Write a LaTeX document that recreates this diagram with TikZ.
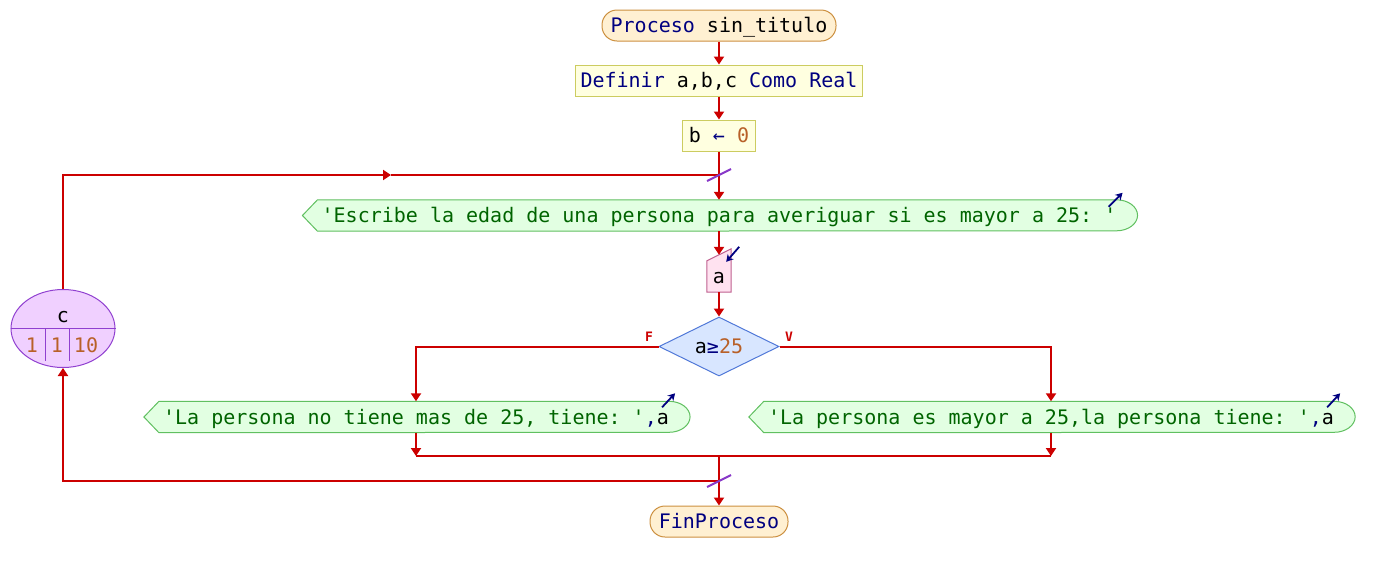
\documentclass[tikz,border=0pt]{standalone}
\usepackage{fontspec}
\setmonofont{DejaVu Sans Mono}
\usetikzlibrary{shapes.geometric,arrows.meta}
\pgfdeclarelayer{background}
\pgfsetlayers{background,main}
\definecolor{flow}{RGB}{204,0,0}
\definecolor{kw}{RGB}{0,0,128}
\definecolor{strg}{RGB}{0,100,0}
\definecolor{num}{RGB}{184,96,40}
\definecolor{procF}{RGB}{255,240,210}
\definecolor{procB}{RGB}{204,144,64}
\definecolor{defF}{RGB}{255,255,224}
\definecolor{defB}{RGB}{204,204,96}
\definecolor{outF}{RGB}{226,255,226}
\definecolor{outB}{RGB}{96,192,96}
\definecolor{inF}{RGB}{255,226,240}
\definecolor{inB}{RGB}{192,96,144}
\definecolor{decF}{RGB}{216,230,255}
\definecolor{decB}{RGB}{80,120,216}
\definecolor{cntF}{RGB}{240,208,255}
\definecolor{cntB}{RGB}{144,64,208}
\definecolor{slashC}{RGB}{136,56,200}
\newcommand{\outshape}[1]{%
  \begin{pgfonlayer}{background}
  \draw[outB, fill=outF, line width=1pt] ([xshift=-19pt]#1.west) -- ([xshift=-4pt]#1.north west) -- (#1.north east)
    arc[start angle=90, end angle=-90, x radius=21pt, y radius=15.5pt] -- ([xshift=-4pt]#1.south west) -- cycle;
  \end{pgfonlayer}}
\begin{document}
\frenchspacing
\begin{tikzpicture}[x=1pt,y=-1pt,
  font=\ttfamily\fontsize{20}{24}\selectfont,
  txt/.style={inner sep=0pt, text height=15pt, text depth=1pt},
  procbox/.style={txt, draw=procB, fill=procF, line width=1pt, rounded corners=15pt, minimum height=31pt},
  defbox/.style={txt, draw=defB, fill=defF, line width=1pt, minimum height=31pt},
  outbox/.style={txt, minimum height=31pt},
  flowline/.style={draw=flow, line width=2pt},
  arr/.style={flowline, -{Triangle[width=10pt,length=8pt]}},
  ioarrow/.style={draw=kw, line width=1.8pt, -{Stealth[width=8pt,length=7pt]}},
  slash/.style={draw=slashC, line width=2pt},
  cond/.style={text=flow, inner sep=0pt, font=\ttfamily\bfseries\fontsize{13}{15}\selectfont}]
\useasboundingbox (0,0) rectangle (1373,571);

% nodes
\node[procbox, minimum width=234pt] (p) at (719,25.5) {{\color{kw}Proceso} sin\_titulo};
\node[defbox, minimum width=287pt] (d) at (719,80.5) {{\color{kw}Definir} a,b,c {\color{kw}Como Real}};
\node[defbox, minimum width=73pt] (b) at (719,135.5) {b {\color{kw}←} {\color{num}0}};

\node[outbox] (o1) at (719,215.5) {\color{strg}'Escribe la edad de una persona para averiguar si es mayor a 25: '};
\outshape{o1}

\node[txt, minimum width=24pt, minimum height=31pt] (inp) at (719,276.5) {a};
\begin{pgfonlayer}{background}
\draw[inB, fill=inF, line width=1pt] (inp.south west) -- (inp.south east) -- ([yshift=12pt]inp.north east) -- (inp.north west) -- cycle;
\end{pgfonlayer}

\node[diamond, aspect=2, draw=decB, fill=decF, line width=1pt, minimum width=120pt, minimum height=59pt, inner sep=0pt, text height=15pt, text depth=1pt] (dec) at (719,346.5) {a{\color{kw}≥}{\color{num}25}};
\node[cond] (lf) at (649,337) {F};
\node[cond] (lv) at (789,337) {V};

\node[outbox] (oL) at (416,417) {{\color{strg}'La persona no tiene mas de 25, tiene: '}{\color{kw},}a};
\outshape{oL}
\node[outbox] (oR) at (1051,417) {{\color{strg}'La persona es mayor a 25,la persona tiene: '}{\color{kw},}a};
\outshape{oR}

\node[procbox, minimum width=138pt] (fin) at (719,521.5) {\color{kw}FinProceso};

% loop counter
\node[ellipse, draw=cntB, fill=cntF, line width=1pt, minimum width=104pt, minimum height=78pt, inner sep=0pt] (cnt) at (63,328.5) {};
\draw[cntB, line width=1pt] (cnt.west) -- (cnt.east);
\draw[cntB, line width=1pt] ([xshift=-18pt]cnt.center) -- ([xshift=-18pt,yshift=-32pt]cnt.center);
\draw[cntB, line width=1pt] ([xshift=6pt]cnt.center) -- ([xshift=6pt,yshift=-32pt]cnt.center);
\node[txt] (cv) at (63,315.5) {c};
\node[txt] (c1) at (32,345) {\color{num}1};
\node[txt] (c2) at (57,345) {\color{num}1};
\node[txt] (c3) at (86,345) {\color{num}10};

% junctions
\coordinate (j1) at (719,175);
\coordinate (lm) at (391,175);
\coordinate (jm) at (719,456);
\coordinate (j2) at (719,481);

% connectors
\draw[arr] (p.south) -- (d.north);
\draw[arr] (d.south) -- (b.north);
\draw[arr] (b.south) -- (o1.north);
\draw[arr] (o1.south) -- ([yshift=6pt]inp.north);
\draw[arr] (inp.south) -- (dec.north);
\draw[arr] (dec.west) -| (oL.north);
\draw[arr] (dec.east) -| (oR.north);
\draw[arr] (oL.south) -- (oL.south |- jm);
\draw[arr] (oR.south) -- (oR.south |- jm);
\draw[flowline] (oL.south |- jm) -- (oR.south |- jm);
\draw[arr] (jm) -- (fin.north);
\draw[arr] (j2) -| (cnt.south);
\draw[arr] (cnt.north) |- (lm);
\draw[flowline] (lm) -- (j1);

% slash marks
\draw[slash] ([shift={(-12pt,-6pt)}]j1) -- ([shift={(12pt,6pt)}]j1);
\draw[slash] ([shift={(-12pt,-6pt)}]j2) -- ([shift={(12pt,6pt)}]j2);

% io arrows
\draw[ioarrow] ([shift={(-8pt,-7pt)}]o1.north east) -- ([shift={(6pt,7pt)}]o1.north east);
\draw[ioarrow] ([shift={(-7pt,-6pt)}]oL.north east) -- ([shift={(6pt,8pt)}]oL.north east);
\draw[ioarrow] ([shift={(-7pt,-6pt)}]oR.north east) -- ([shift={(6pt,8pt)}]oR.north east);
\draw[ioarrow] ([shift={(8pt,14pt)}]inp.north east) -- ([shift={(-5pt,-1pt)}]inp.north east);
\end{tikzpicture}
\end{document}
